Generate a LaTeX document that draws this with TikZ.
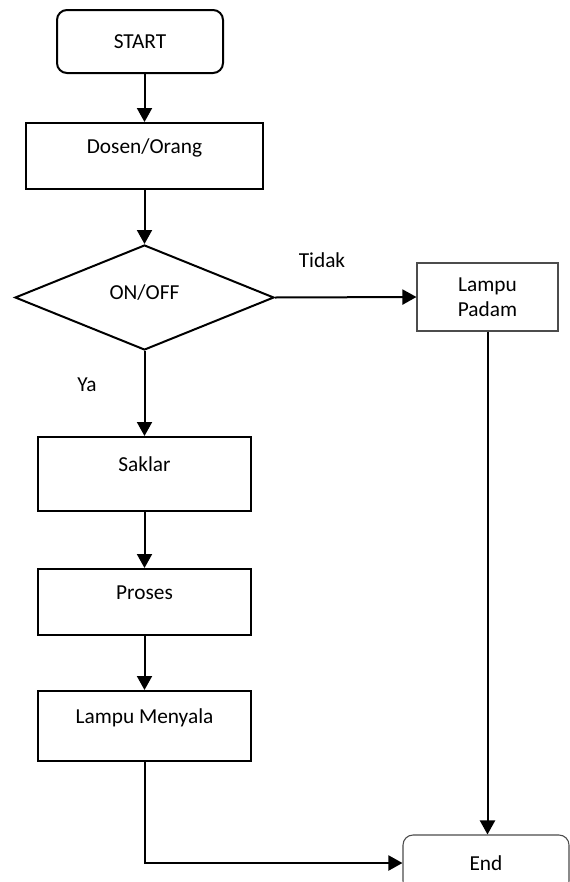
\documentclass[tikz,border=0pt]{standalone}
\usepackage{fontspec}
\setmainfont{Carlito}
\usetikzlibrary{arrows.meta,shapes.geometric}

\begin{document}
\begin{tikzpicture}[x=0.75pt,y=-0.75pt,
  every node/.style={font=\fontsize{16}{19}\selectfont},
  box/.style={draw,line width=1.5pt,inner sep=0pt,minimum width=159.75pt,text height=12pt,text depth=15.5pt},
  endbox/.style={draw,rounded corners=7.5pt,inner sep=0pt,minimum width=124.5pt},
  thinbox/.style={draw=black!70,line width=0.8pt,inner sep=0pt,align=center},
  arr/.style={line width=1.5pt,-{Triangle[width=11.25pt,length=10.5pt]}}]
\useasboundingbox (0,0) rectangle (569,882);
\def\cx{144.5}   % main column
% left column
\node[endbox,line width=1.5pt,minimum height=47.25pt] (start) at (140,41.5) {START};
\node[box,minimum width=177.75pt,minimum height=49.5pt] (dosen) at (\cx,156) {Dosen/Orang};
\node[diamond,draw,line width=1.5pt,inner sep=0pt,minimum width=194.25pt,minimum height=78.75pt] (onoff) at (\cx,297.5) {};
\node (onofftext) at (\cx,293) {ON/OFF};
\node[box,minimum height=55.5pt] (saklar) at (\cx,474) {Saklar};
\node[box,minimum height=49.5pt] (proses) at (\cx,602) {Proses};
\node[box,minimum height=52.5pt] (nyala) at (\cx,726) {Lampu Menyala};
% right column
\node[thinbox,minimum width=105.75pt,minimum height=51pt] (padam) at (487.5,297) {Lampu\\Padam};
\node[endbox,draw=black!70,line width=0.8pt,minimum height=42pt] (end) at (486,863) {End};
% labels
\node (tidak) at (322,260) {Tidak};
\node (ya) at (87,385) {Ya};
% connectors
\draw[arr] (dosen.north |- start.south) -- (dosen.north);
\draw[arr] (dosen.south) -- (onoff.north);
\draw[arr] (onoff.east) -- (padam.west);
\draw[arr] (onoff.south) -- (saklar.north);
\draw[arr] (saklar.south) -- (proses.north);
\draw[arr] (proses.south) -- (nyala.north);
\draw[arr] (padam.south) -- (padam.south |- end.north);
\draw[arr] (nyala.south) |- (end.west);
\end{tikzpicture}
\end{document}
